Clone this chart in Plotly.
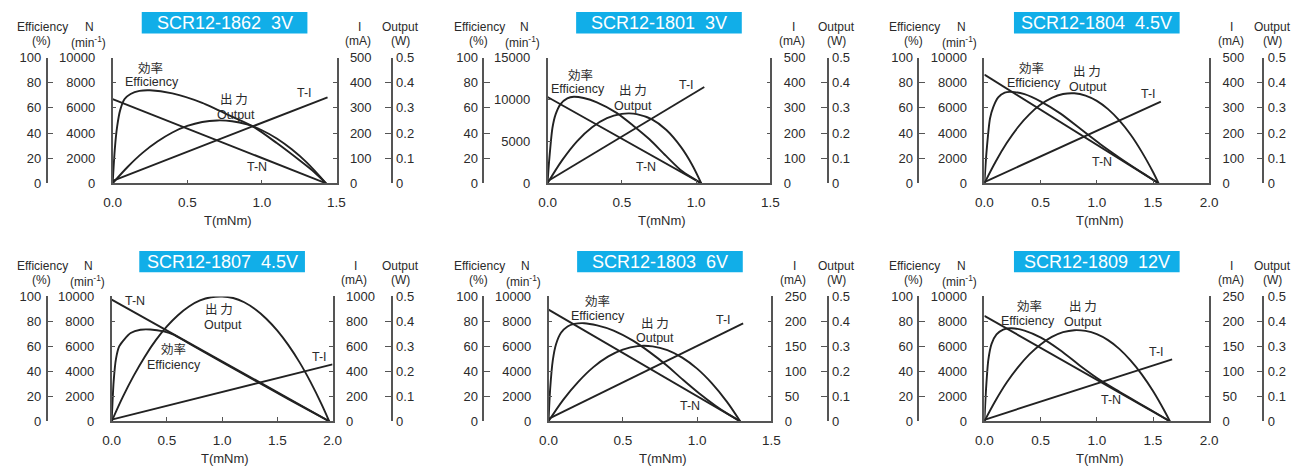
import plotly.graph_objects as go

# window is 1312x475; the page keeps an 8px body margin, so the figure is drawn 8px in
OFF = 8
W, H = 1312 - 2 * OFF, 475 - 2 * OFF

# ---------------- data ----------------
MODELS = ["SCR12-1862", "SCR12-1801", "SCR12-1804", "SCR12-1807", "SCR12-1803", "SCR12-1809"]
VOLTAGES = ["3V", "3V", "4.5V", "4.5V", "6V", "12V"]

T_MAX = [1.5, 1.5, 2.0, 2.0, 1.5, 2.0]
T_TICKS_15 = [0.0, 0.5, 1.0, 1.5]
T_TICKS_20 = [0.0, 0.5, 1.0, 1.5, 2.0]
N_MAX = [10000, 15000, 10000, 10000, 10000, 10000]
N_DTICK = [2000, 5000, 2000, 2000, 2000, 2000]
I_MAX = [500, 500, 500, 1000, 250, 250]
I_DTICK = [100, 100, 100, 200, 50, 50]
EFF_TICKS = [0, 20, 40, 60, 80, 100]
OUT_TICKS = [0, 0.1, 0.2, 0.3, 0.4, 0.5]

# SCR12-1862 3V
TN_T_1862 = [0, 1.43]
TN_N_1862 = [6700, 0]
TI_T_1862 = [0, 1.44]
TI_I_1862 = [10, 342]
EFF_T_1862 = [0, 0.015, 0.03, 0.05, 0.08, 0.12, 0.18, 0.25, 0.4, 0.6, 0.8, 0.95, 1.1, 1.25, 1.35, 1.43]
EFF_E_1862 = [0, 28, 45, 58, 67, 71, 73.5, 74, 71.5, 64, 53, 44.5, 32, 18.5, 9, 0]
OUT_T_1862 = [0, 0.1, 0.2, 0.3, 0.4, 0.5, 0.6, 0.7, 0.8, 0.9, 1.0, 1.1, 1.2, 1.3, 1.43]
OUT_P_1862 = [0, 0.065, 0.121, 0.166, 0.202, 0.228, 0.244, 0.25, 0.247, 0.234, 0.211, 0.178, 0.135, 0.083, 0]

# SCR12-1801 3V
TN_T_1801 = [0, 1.035]
TN_N_1801 = [10300, 0]
TI_T_1801 = [0, 1.055]
TI_I_1801 = [8, 383]
EFF_T_1801 = [0, 0.011, 0.033, 0.055, 0.088, 0.133, 0.177, 0.243, 0.332, 0.465, 0.575, 0.686, 0.796, 0.907, 1.035]
EFF_E_1801 = [0, 18, 44, 55, 63, 67.5, 68.8, 67.8, 64.4, 56, 46, 35, 22, 9.5, 0]
OUT_T_1801 = [0, 0.1, 0.2, 0.3, 0.4, 0.5, 0.55, 0.6, 0.7, 0.8, 0.9, 0.97, 1.035]
OUT_P_1801 = [0, 0.093, 0.168, 0.223, 0.259, 0.276, 0.278, 0.275, 0.255, 0.212, 0.143, 0.077, 0]

# SCR12-1804 4.5V
TN_T_1804 = [0, 1.55]
TN_N_1804 = [8650, 0]
TI_T_1804 = [0, 1.57]
TI_I_1804 = [5, 325]
EFF_T_1804 = [0, 0.02, 0.05, 0.079, 0.123, 0.181, 0.24, 0.357, 0.503, 0.678, 0.854, 1.029, 1.205, 1.38, 1.48, 1.55]
EFF_E_1804 = [0, 26, 51.5, 60.6, 68.3, 72.2, 72.7, 70.9, 65, 55.4, 43.3, 31.3, 20.2, 9.8, 4.0, 0]
OUT_T_1804 = [0, 0.1, 0.2, 0.3, 0.4, 0.5, 0.6, 0.7, 0.8, 0.9, 1.0, 1.1, 1.2, 1.3, 1.4, 1.5, 1.55]
OUT_P_1804 = [0, 0.086, 0.161, 0.224, 0.274, 0.313, 0.34, 0.355, 0.358, 0.349, 0.328, 0.295, 0.25, 0.194, 0.125, 0.045, 0]

# SCR12-1807 4.5V
TN_T_1807 = [0, 1.97]
TN_N_1807 = [9750, 0]
TI_T_1807 = [0, 2.0]
TI_I_1807 = [13, 456]
EFF_T_1807 = [0, 0.018, 0.039, 0.068, 0.113, 0.172, 0.26, 0.35, 0.47, 0.56, 0.7, 1.0, 1.3, 1.6, 1.8, 1.97]
EFF_E_1807 = [0, 32, 50, 60, 65.5, 70.7, 73.3, 73.5, 72, 69.5, 62.3, 47.3, 32.5, 17.8, 8.1, 0]
OUT_T_1807 = [0, 0.1, 0.2, 0.3, 0.4, 0.5, 0.6, 0.7, 0.8, 0.9, 1.0, 1.1, 1.2, 1.3, 1.4, 1.5, 1.6, 1.7, 1.8, 1.9, 1.97]
OUT_P_1807 = [0, 0.097, 0.183, 0.259, 0.325, 0.38, 0.425, 0.46, 0.484, 0.497, 0.5, 0.494, 0.477, 0.449, 0.411,
              0.363, 0.305, 0.237, 0.158, 0.069, 0]

# SCR12-1803 6V
TN_T_1803 = [0, 1.29]
TN_N_1803 = [8950, 0]
TI_T_1803 = [0, 1.31]
TI_I_1803 = [5, 196]
EFF_T_1803 = [0, 0.011, 0.029, 0.051, 0.084, 0.128, 0.173, 0.24, 0.327, 0.438, 0.571, 0.681, 0.792, 0.903,
              1.013, 1.124, 1.212, 1.29]
EFF_E_1803 = [0, 25.8, 49, 61.9, 70.9, 76, 78, 78.6, 76.8, 72.7, 64.4, 55.4, 45.1, 33.5, 22.5, 12.5, 5.5, 0]
OUT_T_1803 = [0, 0.1, 0.2, 0.3, 0.4, 0.5, 0.6, 0.7, 0.8, 0.9, 1.0, 1.1, 1.2, 1.29]
OUT_P_1803 = [0, 0.087, 0.158, 0.216, 0.259, 0.287, 0.301, 0.3, 0.285, 0.255, 0.211, 0.152, 0.079, 0]

# SCR12-1809 12V
TN_T_1809 = [0, 1.65]
TN_N_1809 = [8450, 0]
TI_T_1809 = [0, 1.67]
TI_I_1809 = [3, 124]
EFF_T_1809 = [0, 0.015, 0.035, 0.064, 0.108, 0.167, 0.24, 0.357, 0.503, 0.678, 0.854, 1.029, 1.205, 1.38, 1.5, 1.65]
EFF_E_1809 = [0, 26, 49, 62, 69.6, 73.5, 74.5, 72.7, 67, 56.7, 44.3, 33, 23.5, 14.2, 8, 0]
OUT_T_1809 = [0, 0.1, 0.2, 0.3, 0.4, 0.5, 0.6, 0.7, 0.8, 0.9, 1.0, 1.1, 1.2, 1.3, 1.4, 1.5, 1.6, 1.65]
OUT_P_1809 = [0, 0.083, 0.156, 0.217, 0.268, 0.308, 0.338, 0.357, 0.365, 0.362, 0.349, 0.325, 0.29, 0.244,
              0.188, 0.121, 0.043, 0]

# tables built from the arrays above
T_TICKS = [T_TICKS_15, T_TICKS_15, T_TICKS_20, T_TICKS_20, T_TICKS_15, T_TICKS_20]
TN_T = [TN_T_1862, TN_T_1801, TN_T_1804, TN_T_1807, TN_T_1803, TN_T_1809]
TN_N = [TN_N_1862, TN_N_1801, TN_N_1804, TN_N_1807, TN_N_1803, TN_N_1809]
TI_T = [TI_T_1862, TI_T_1801, TI_T_1804, TI_T_1807, TI_T_1803, TI_T_1809]
TI_I = [TI_I_1862, TI_I_1801, TI_I_1804, TI_I_1807, TI_I_1803, TI_I_1809]
EFF_T = [EFF_T_1862, EFF_T_1801, EFF_T_1804, EFF_T_1807, EFF_T_1803, EFF_T_1809]
EFF_E = [EFF_E_1862, EFF_E_1801, EFF_E_1804, EFF_E_1807, EFF_E_1803, EFF_E_1809]
OUT_T = [OUT_T_1862, OUT_T_1801, OUT_T_1804, OUT_T_1807, OUT_T_1803, OUT_T_1809]
OUT_P = [OUT_P_1862, OUT_P_1801, OUT_P_1804, OUT_P_1807, OUT_P_1803, OUT_P_1809]

# ---------------- layout geometry (window pixels) ----------------
GEOM = [
    dict(eff=38, left=105, right=332, out=388, top=52, bottom=182),
    dict(eff=481, left=546, right=772, out=830, top=52, bottom=182),
    dict(eff=922, left=989, right=1217, out=1272, top=52, bottom=182),
    dict(eff=38, left=104, right=328, out=388, top=299, bottom=428),
    dict(eff=481, left=547, right=773, out=830, top=299, bottom=428),
    dict(eff=922, left=989, right=1217, out=1272, top=299, bottom=428),
]
CURVE_LABELS = [
    [("効率", 143, 62, 12.5), ("Efficiency", 145, 77, 12.5), ("出 力", 228, 94, 12.5), ("Output", 230, 111, 12.5),
     ("T-I", 300, 89, 12.5), ("T-N", 251, 165, 12.5)],
    [("効率", 579, 69, 12.5), ("Efficiency", 577, 85, 12.5), ("出 力", 633, 85, 12.5), ("Output", 633, 102, 12.5),
     ("T-I", 687, 80, 12.5), ("T-N", 646, 165, 12.5)],
    [("効率", 1037, 62, 12.5), ("Efficiency", 1039, 78, 12.5), ("出 力", 1093, 65, 12.5), ("Output", 1094, 82, 12.5),
     ("T-I", 1155, 90, 12.5), ("T-N", 1108, 160, 12.5)],
    [("T-N", 128, 304, 12.5), ("出 力", 213, 311, 12.5), ("Output", 217, 328, 12.5), ("効率", 167, 353, 12.5),
     ("Efficiency", 167, 370, 12.5), ("T-I", 315, 362, 12.5)],
    [("効率", 597, 303, 12.5), ("Efficiency", 597, 319, 12.5), ("出 力", 655, 326, 12.5), ("Output", 655, 342, 12.5),
     ("T-I", 724, 323, 12.5), ("T-N", 690, 412, 12.5)],
    [("効率", 1035, 308, 12.5), ("Efficiency", 1033, 324, 12.5), ("出 力", 1089, 308, 12.5),
     ("Output", 1089, 325, 12.5), ("T-I", 1164, 356, 12.5), ("T-N", 1117, 406, 12.5)],
]

LINE = "#222222"
AX = "#555555"
TXT = "#2a2a2a"
BOX = "#11AEE8"
FONT = "Liberation Sans, Arial, sans-serif"
CJK = "Noto Sans CJK JP, sans-serif"


def PX(v):
    return (v - OFF) / W


def PY(v):
    return 1 - (v - OFF) / H


def ref(prefix, n):
    return prefix if n == 1 else f"{prefix}{n}"


fig = go.Figure()
layout = {}
annotations = []
shapes = []

for p in range(6):
    g = GEOM[p]
    xn = p + 1
    yN, yE, yI, yO = 4 * p + 1, 4 * p + 2, 4 * p + 3, 4 * p + 4
    xr = ref("x", xn)
    dom_y = [PY(g["bottom"]), PY(g["top"])]
    common = dict(showgrid=False, zeroline=False, showline=True, linecolor=AX, linewidth=1.6,
                  ticks="inside", tickcolor=AX, tickwidth=1.4, fixedrange=True,
                  tickfont=dict(family=FONT, size=13, color=TXT))

    layout[ref("xaxis", xn)] = dict(common, domain=[PX(g["left"]), PX(g["right"])], anchor=ref("y", yN),
                                    range=[0, T_MAX[p]], tickvals=T_TICKS[p], tickformat=".1f", ticklen=4,
                                    tickfont=dict(family=FONT, size=13.5, color=TXT), ticklabelstandoff=6)
    layout[ref("yaxis", yN)] = dict(common, domain=dom_y, anchor=xr, side="left", range=[0, N_MAX[p]],
                                    tick0=0, dtick=N_DTICK[p], ticklen=4, tickformat="d",
                                    ticklabelstandoff=13)
    layout[ref("yaxis", yE)] = dict(common, overlaying=ref("y", yN), anchor="free", position=PX(g["eff"]),
                                    side="left", range=[0, 100], tickvals=EFF_TICKS, ticklen=6,
                                    tickformat="d", ticklabelstandoff=2)
    layout[ref("yaxis", yI)] = dict(common, overlaying=ref("y", yN), anchor=xr, side="right",
                                    range=[0, I_MAX[p]], tick0=0, dtick=I_DTICK[p], ticklen=4,
                                    tickformat="d", ticklabelstandoff=9)
    layout[ref("yaxis", yO)] = dict(common, overlaying=ref("y", yN), anchor="free", position=PX(g["out"]),
                                    side="right", range=[0, 0.5], tickvals=OUT_TICKS, ticklen=6,
                                    ticklabelstandoff=1)

    lw = 1.9
    fig.add_trace(go.Scatter(x=TN_T[p], y=TN_N[p], xaxis=xr, yaxis=ref("y", yN), mode="lines",
                             line=dict(color=LINE, width=lw), hoverinfo="skip", showlegend=False))
    fig.add_trace(go.Scatter(x=TI_T[p], y=TI_I[p], xaxis=xr, yaxis=ref("y", yI), mode="lines",
                             line=dict(color=LINE, width=lw), hoverinfo="skip", showlegend=False))
    fig.add_trace(go.Scatter(x=EFF_T[p], y=EFF_E[p], xaxis=xr, yaxis=ref("y", yE), mode="lines",
                             line=dict(color=LINE, width=lw, shape="spline", smoothing=0.7),
                             hoverinfo="skip", showlegend=False))
    fig.add_trace(go.Scatter(x=OUT_T[p], y=OUT_P[p], xaxis=xr, yaxis=ref("y", yO), mode="lines",
                             line=dict(color=LINE, width=lw, shape="spline", smoothing=1.0),
                             hoverinfo="skip", showlegend=False))

    dy = g["top"] - 52
    cx = (g["left"] + g["right"]) / 2
    shapes.append(dict(type="rect", xref="paper", yref="paper", x0=PX(cx - 84), x1=PX(cx + 84),
                       y0=PY(27 + dy), y1=PY(5 + dy), fillcolor=BOX, line=dict(width=0)))
    annotations.append(dict(text=f"{MODELS[p]}\u00a0\u00a0{VOLTAGES[p]}", x=PX(cx), y=PY(16.5 + dy),
                            xref="paper", yref="paper", showarrow=False, xanchor="center", yanchor="middle",
                            font=dict(family=FONT, size=18, color="white")))
    heads = [
        ("Efficiency", g["eff"] - 4, 20), ("(%)", g["eff"] - 5, 35),
        ("N", g["left"] - 23, 20), ("(min<sup>-1</sup>)", g["left"] - 25, 36),
        ("I", g["right"] + 23, 20), ("(mA)", g["right"] + 22, 35),
        ("Output", g["out"] + 9, 20), ("(W)", g["out"] + 9, 35),
    ]
    for t, hx, hy in heads:
        annotations.append(dict(text=t, x=PX(hx), y=PY(hy + dy), xref="paper", yref="paper", showarrow=False,
                                xanchor="center", yanchor="middle",
                                font=dict(family=FONT, size=12, color=TXT)))
    annotations.append(dict(text="T(mNm)", x=PX(cx + 3), y=PY(g["bottom"] + 38), xref="paper", yref="paper",
                            showarrow=False, xanchor="center", yanchor="middle",
                            font=dict(family=FONT, size=13, color=TXT)))
    for t, lx, ly, fs in CURVE_LABELS[p]:
        fam = CJK if t in ("効率", "出 力") else FONT
        annotations.append(dict(text=t, x=PX(lx), y=PY(ly), xref="paper", yref="paper", showarrow=False,
                                xanchor="center", yanchor="middle",
                                font=dict(family=fam, size=fs, color=TXT)))

fig.update_layout(**layout)
fig.update_layout(width=W, height=H, margin=dict(l=0, r=0, t=0, b=0), paper_bgcolor="white",
                  plot_bgcolor="white", annotations=annotations, shapes=shapes, showlegend=False)

fig.write_html("out.html", config=dict(displayModeBar=False))
